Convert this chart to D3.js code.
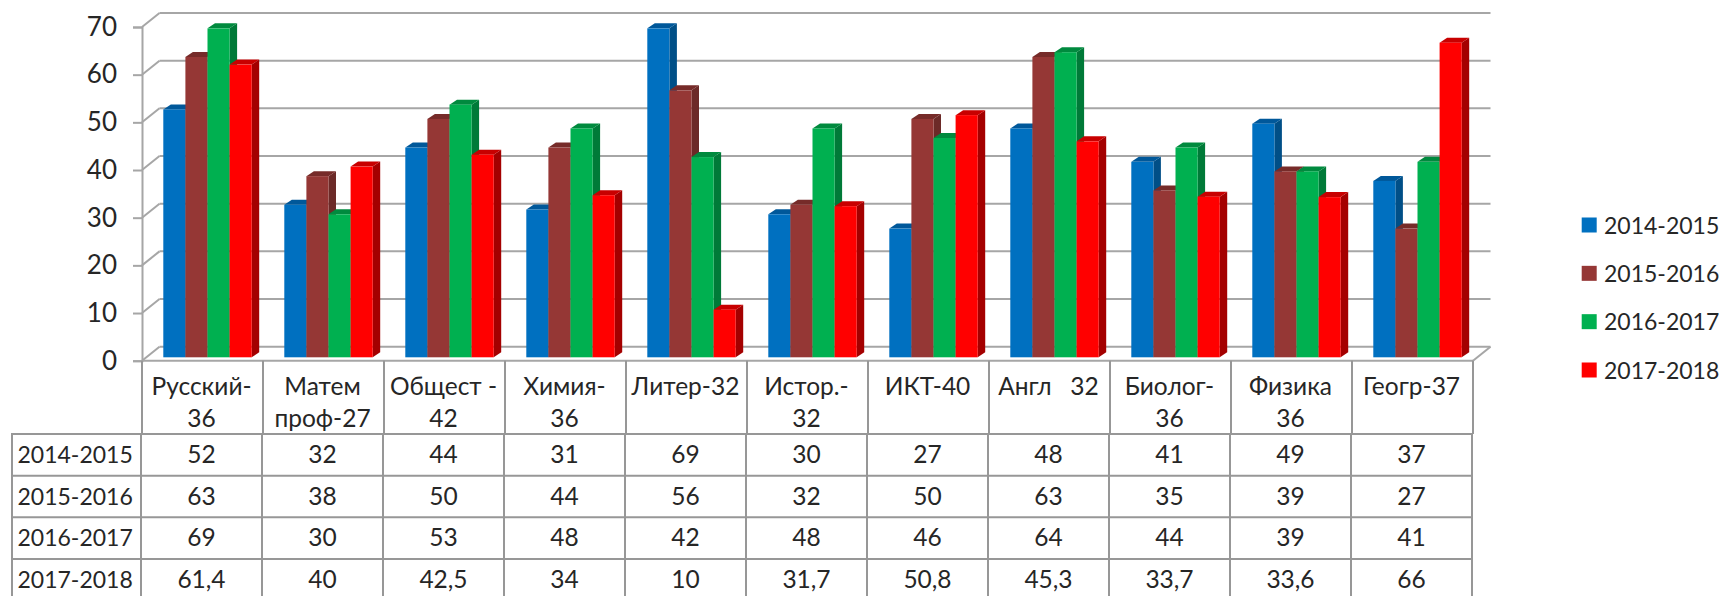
<!DOCTYPE html>
<html><head><meta charset="utf-8">
<script src="https://cdn.jsdelivr.net/npm/d3@7"></script>
<style>
html,body{margin:0;padding:0;background:#fff;overflow:hidden}
text{font-family:Lato,"Open Sans",sans-serif;fill:#262626;white-space:pre}
.tick text{font-size:26px;fill:#262626}
</style></head><body><svg id="c" width="1724" height="596"></svg>
<script>
const categories=[["Русский-","36"],["Матем","проф-27"],["Общест -","42"],["Химия-","36"],["Литер-32"],["Истор.-","32"],["ИКТ-40"],["Англ   32"],["Биолог-","36"],["Физика","36"],["Геогр-37"]];
const seriesNames=["2014-2015","2015-2016","2016-2017","2017-2018"];
const s2014=[52,32,44,31,69,30,27,48,41,49,37];
const s2015=[63,38,50,44,56,32,50,63,35,39,27];
const s2016=[69,30,53,48,42,48,46,64,44,39,41];
const s2017=[61.4,40,42.5,34,10,31.7,50.8,45.3,33.7,33.6,66];
const allSeries=[s2014,s2015,s2016,s2017];
const yTicks=[0,10,20,30,40,50,60,70];
const front=["#0070c0","#953735","#00b050","#ff0000"];
const topFace=["#00589a","#762b29","#008a3e","#c80000"];
const sideFace=["#004f87","#6c2a28","#007a38","#a40000"];
const gridCol="#a6a6a6", tableCol="#979797";

const svg=d3.select("#c");
const catIdx=d3.range(categories.length);
const x=d3.scaleBand().domain(catIdx).range([142,1473]);
const y=d3.scaleLinear().domain([0,70]).range([360.7,27]);
const inner=d3.scaleBand().domain(d3.range(4)).range([0,88.4]);
const dx=17.5, dy=14, bx=7.5, by=5, lift=3.4, groupOff=21.3;

// back wall and side wall
const g=svg.append("g");
g.selectAll("line.grid").data(yTicks).join("line")
 .attr("x1",142+dx).attr("x2",1473+dx).attr("y1",d=>y(d)-dy).attr("y2",d=>y(d)-dy)
 .attr("stroke",gridCol).attr("stroke-width",2);
g.selectAll("line.diag").data(yTicks).join("line").attr("class","diag")
 .attr("x1",142).attr("x2",142+dx).attr("y1",d=>y(d)).attr("y2",d=>y(d)-dy)
 .attr("stroke",gridCol).attr("stroke-width",2);
// floor
g.append("line").attr("x1",142).attr("x2",1473).attr("y1",y(0)).attr("y2",y(0)).attr("stroke",gridCol).attr("stroke-width",2);
g.append("line").attr("x1",1473).attr("x2",1473+dx).attr("y1",y(0)).attr("y2",y(0)-dy).attr("stroke",gridCol).attr("stroke-width",2);

// y axis
const ax=svg.append("g").attr("transform","translate(142,0)")
 .call(d3.axisLeft(y).tickValues(yTicks).tickSize(9).tickPadding(16).tickFormat(d3.format("d")));
ax.selectAll("path").attr("stroke",gridCol).attr("stroke-width",2);
ax.selectAll("line").attr("stroke",gridCol).attr("stroke-width",2);

// bars
const bars=svg.append("g");
catIdx.forEach(c=>{
 const gr=bars.append("g").attr("transform",`translate(${x(c)+groupOff},0)`);
 allSeries.forEach((vals,s)=>{
  const v=vals[c], x0=inner(s), w=inner.bandwidth(), yt=y(v)-lift, yb=y(0)-lift;
  gr.append("path").attr("fill",sideFace[s])
   .attr("d",`M${x0+w},${yt}L${x0+w+bx},${yt-by}L${x0+w+bx},${yb-by}L${x0+w},${yb}Z`);
  gr.append("path").attr("fill",topFace[s])
   .attr("d",`M${x0},${yt}L${x0+bx},${yt-by}L${x0+w+bx},${yt-by}L${x0+w},${yt}Z`);
  gr.append("rect").attr("x",x0).attr("y",yt).attr("width",w).attr("height",yb-yt).attr("fill",front[s]);
 });
});

// data table
const rowY=d3.scaleBand().domain(d3.range(4)).range([434,600.5]);
const t=svg.append("g");
const tableLeft=12;
d3.range(categories.length+1).forEach(i=>{
 const xp=i<categories.length?x(i):x.range()[1];
 t.append("line").attr("x1",xp).attr("x2",xp).attr("y1",y(0)).attr("y2",434).attr("stroke",tableCol).attr("stroke-width",2);
 t.append("line").attr("x1",xp-1).attr("x2",xp-1).attr("y1",434).attr("y2",596).attr("stroke",tableCol).attr("stroke-width",2);
});
t.append("line").attr("x1",tableLeft).attr("x2",tableLeft).attr("y1",434).attr("y2",596).attr("stroke",tableCol).attr("stroke-width",2);
d3.range(4).forEach(r=>{
 t.append("line").attr("x1",tableLeft-1).attr("x2",1473).attr("y1",rowY(r)).attr("y2",rowY(r)).attr("stroke",tableCol).attr("stroke-width",2);
});
const fs=23, fsCat=24.5;
catIdx.forEach(c=>{
 const cx=x(c)+x.bandwidth()/2-1;
 categories[c].forEach((ln,i)=>{
  t.append("text").attr("x",cx).attr("y",395+i*31.7).attr("text-anchor","middle").attr("font-size",fsCat).text(ln);
 });
 allSeries.forEach((vals,r)=>{
  t.append("text").attr("x",cx).attr("y",rowY(r)+29).attr("text-anchor","middle").attr("font-size",fsCat)
   .text(String(vals[c]).replace(".",","));
 });
});
seriesNames.forEach((n,r)=>{
 t.append("text").attr("x",17.5).attr("y",rowY(r)+29).attr("font-size",fs).text(n);
});

// legend
const legY=d3.scalePoint().domain(seriesNames).range([225,370]);
const leg=svg.append("g");
seriesNames.forEach((n,i)=>{
 leg.append("rect").attr("x",1581.7).attr("y",legY(n)-7.5).attr("width",15).attr("height",15).attr("fill",front[i]);
 leg.append("text").attr("x",1604).attr("y",legY(n)+8.5).attr("font-size",fs).text(n);
});
</script></body></html>
